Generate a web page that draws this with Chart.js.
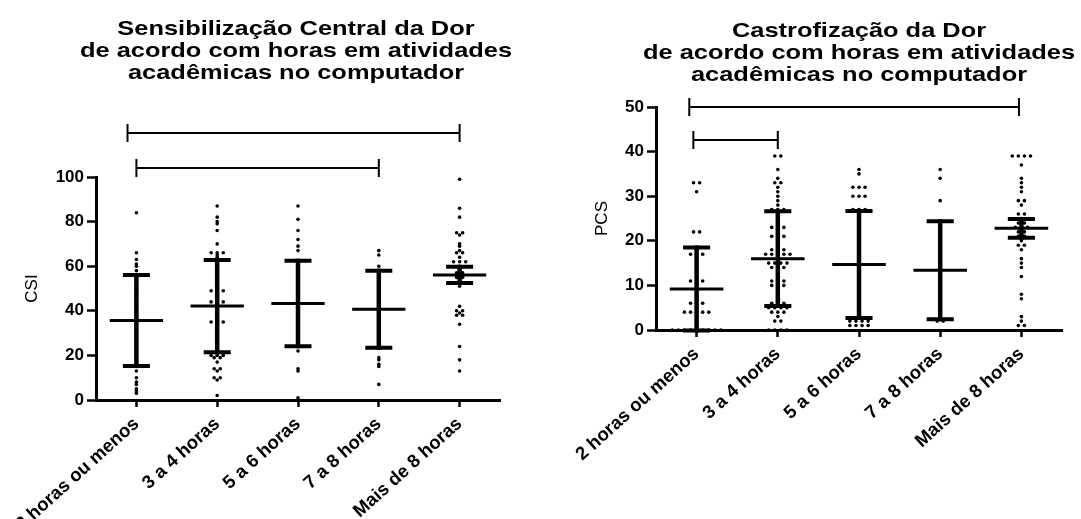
<!DOCTYPE html>
<html><head><meta charset="utf-8">
<script src="https://cdn.jsdelivr.net/npm/chart.js@4.4.0/dist/chart.umd.min.js"></script>
<style>
html,body{margin:0;padding:0;background:#fff;}
#wrap{position:relative;width:1081px;height:519px;overflow:hidden;background:#fff;}
.c{position:absolute;top:0;height:519px;}
</style></head><body>
<div id="wrap">
<div class="c" style="left:0;width:540px"><canvas id="csi"></canvas></div>
<div class="c" style="left:540px;width:541px"><canvas id="pcs"></canvas></div>
</div>
<script>
// ---------- data ----------
const categories = ['2 horas ou menos', '3 a 4 horas', '5 a 6 horas', '7 a 8 horas', 'Mais de 8 horas'];

const csiTitle = ['Sensibilização Central da Dor', 'de acordo com horas em atividades', 'acadêmicas no computador'];
const pcsTitle = ['Castrofização da Dor', 'de acordo com horas em atividades', 'acadêmicas no computador'];

const csi2h   = [84, 66, 63, 61, 60, 58, 55, 52, 50, 47, 45, 43, 42, 40, 39, 38, 37, 36, 34, 32, 30, 28, 26, 24, 22, 20, 18, 16, 13, 10, 8, 7, 5, 4, 3];
const csi3a4  = [87, 82, 80, 79, 76, 70, 66, 66, 66, 65, 64, 62, 61, 60, 58, 57, 56, 55, 54, 53, 52, 51, 50, 49, 49, 49, 48, 47, 46, 45, 44, 44, 44, 43, 42, 41, 40, 39, 38, 37, 36, 35, 35, 35, 34, 33, 32, 31, 30, 29, 28, 27, 26, 25, 24, 23, 22, 21, 20, 20, 20, 19, 19, 17, 14, 14, 13, 10, 10, 9, 2];
const csi5a6  = [87, 81, 76, 72, 69, 67, 62, 60, 58, 56, 55, 52, 50, 48, 45, 43, 40, 37, 35, 33, 30, 29, 27, 25, 22, 14, 13, 1];
const csi7a8  = [67, 65, 60, 55, 50, 45, 41, 35, 30, 26, 19, 18, 16, 15, 7];
const csiMais8 = [99, 86, 82, 75, 75, 74, 70, 69, 67, 66, 66, 64, 62, 62, 62, 60, 59, 58, 57, 57, 56, 56, 55, 55, 54, 53, 52, 51, 42, 40, 40, 39, 38, 38, 34, 24, 18, 13];
const csiMeans = [35.6, 42.1, 43.3, 40.7, 56.1];
const csiErr   = [20.4, 20.7, 19.2, 17.3, 3.6];
const csiTicks = [0, 20, 40, 60, 80, 100];
const csiCompare = [[0, 3], [0, 4]];

const pcs2h   = [33, 33, 31, 22, 22, 18, 17, 17, 17, 16, 14, 13, 12, 11, 11, 11, 10, 9, 8, 7, 6, 6, 6, 5, 4, 4, 4, 4, 4, 3, 2, 1, 0, 0, 0, 0, 0, 0, 0, 0, 0];
const pcs3a4  = [39, 39, 36, 34, 33, 33, 32, 31, 30, 29, 28, 27, 27, 27, 26, 25, 24, 23, 23, 23, 22, 21, 21, 21, 20, 19, 18, 18, 18, 17, 17, 17, 17, 17, 16, 15, 15, 15, 15, 14, 14, 14, 13, 12, 11, 11, 11, 10, 10, 10, 9, 8, 7, 6, 6, 6, 5, 5, 5, 5, 4, 4, 4, 3, 2, 2, 0, 0, 0, 0];
const pcs5a6  = [36, 35, 32, 32, 32, 30, 30, 30, 27, 27, 27, 26, 24, 22, 20, 18, 15, 13, 10, 8, 5, 3, 2, 2, 2, 2, 1, 1, 1, 1];
const pcs7a8  = [36, 34, 29, 24, 22, 20, 17, 15, 13, 10, 7, 5, 3, 2, 2];
const pcsMais8 = [39, 39, 39, 39, 37, 34, 33, 32, 31, 29, 29, 28, 26, 26, 25, 24, 24, 23, 23, 23, 22, 22, 21, 21, 20, 19, 19, 18, 16, 15, 14, 12, 8, 7, 3, 2, 1, 1];
const pcsMeans = [9.2, 16.0, 14.7, 13.4, 22.8];
const pcsErr   = [9.3, 10.6, 12.0, 11.0, 2.1];
const pcsTicks = [0, 10, 20, 30, 40, 50];
const pcsCompare = [[0, 4], [0, 1]];

// ---------- helpers ----------
const FF = "'Liberation Sans', Arial, Helvetica, sans-serif";

// spread identical values side by side (scatter dot plot)
function swarm(groups, step) {
  const pts = [];
  groups.forEach((vals, gi) => {
    const counts = {}, seen = {};
    vals.forEach(v => counts[v] = (counts[v] || 0) + 1);
    vals.forEach(v => {
      const n = counts[v], k = seen[v] || 0;
      seen[v] = k + 1;
      pts.push({x: gi + (k - (n - 1) / 2) * step, y: v});
    });
  });
  return pts;
}

// title drawn as real canvas text, slightly widened like the exported figure
const titlePlugin = {
  id: 'wideTitle',
  afterDraw(chart, args, o) {
    const {ctx, chartArea} = chart;
    const cx = (chartArea.left + chartArea.right) / 2 + o.dx;
    ctx.save();
    ctx.fillStyle = '#000';
    ctx.font = 'bold ' + o.size + 'px ' + FF;
    ctx.textAlign = 'center';
    ctx.textBaseline = 'middle';
    o.lines.forEach((line, i) => {
      ctx.save();
      ctx.translate(cx, o.top + i * o.lineHeight);
      ctx.scale(o.stretch, 1);
      ctx.fillText(line, 0, 0);
      ctx.restore();
    });
    ctx.restore();
  }
};

const statsPlugin = {
  id: 'stats',
  afterDatasetsDraw(chart, args, o) {
    const {ctx} = chart;
    const x = chart.scales.x, y = chart.scales.y;
    ctx.save();
    ctx.strokeStyle = '#000';
    ctx.lineCap = 'butt';
    o.means.forEach((m, i) => {
      const e = o.errs[i];
      const cx = x.getPixelForValue(i);
      const yt = y.getPixelForValue(m + e), yb = y.getPixelForValue(m - e), ym = y.getPixelForValue(m);
      ctx.lineWidth = 4.5;
      ctx.beginPath(); ctx.moveTo(cx, yt - 2); ctx.lineTo(cx, yb + 2); ctx.stroke();
      ctx.lineWidth = 4;
      const c0 = x.getPixelForValue(i - o.capHalf), c1 = x.getPixelForValue(i + o.capHalf);
      ctx.beginPath(); ctx.moveTo(c0, yt); ctx.lineTo(c1, yt); ctx.moveTo(c0, yb); ctx.lineTo(c1, yb); ctx.stroke();
      ctx.lineWidth = 3;
      ctx.beginPath(); ctx.moveTo(x.getPixelForValue(i - o.meanHalf), ym); ctx.lineTo(x.getPixelForValue(i + o.meanHalf), ym); ctx.stroke();
    });
    ctx.lineWidth = 2;
    o.compare.forEach((pair, k) => {
      const lv = y.getPixelForValue(o.levels[k]);
      const a = x.getPixelForValue(pair[0] + o.shift[k][0]), b = x.getPixelForValue(pair[1] + o.shift[k][1]);
      ctx.beginPath();
      ctx.moveTo(a, lv); ctx.lineTo(b, lv);
      ctx.moveTo(a, lv - 9); ctx.lineTo(a, lv + 9);
      ctx.moveTo(b, lv - 9); ctx.lineTo(b, lv + 9);
      ctx.stroke();
    });
    ctx.restore();
  }
};

function makeChart(id, c) {
  return new Chart(document.getElementById(id), {
    type: 'scatter',
    data: {datasets: [{
      data: swarm(c.groups, 0.075),
      pointRadius: 1.8, pointHoverRadius: 1.8, pointStyle: 'circle',
      backgroundColor: '#000', borderColor: '#000', borderWidth: 0
    }]},
    options: {
      responsive: true, maintainAspectRatio: false, animation: false, events: [],
      layout: {padding: {left: 0, right: c.padRight, top: c.padTop, bottom: 0}},
      plugins: {
        legend: {display: false}, tooltip: {enabled: false}, title: {display: false},
        wideTitle: {lines: c.title, size: 21, stretch: 1.21, top: c.titleTop, lineHeight: 22, dx: c.titleDx},
        stats: {means: c.means, errs: c.errs, capHalf: 0.167, meanHalf: 0.33,
          compare: c.compare, levels: c.levels, shift: c.shift}
      },
      scales: {
        x: {
          type: 'linear', min: -0.5, max: 4.5,
          afterBuildTicks: s => { s.ticks = categories.map((_, i) => ({value: i})); },
          afterFit: s => { s.height = c.xHeight; },
          ticks: {autoSkip: false, minRotation: 42, maxRotation: 42, padding: 6, color: '#000',
            font: {family: FF, size: 18.5, weight: 'bold'},
            callback: v => categories[v]},
          grid: {display: true, drawOnChartArea: false, drawTicks: true, tickLength: 7, tickWidth: 2.5, tickColor: '#000'},
          border: {display: true, color: '#000', width: 3}
        },
        y: {
          min: 0, max: c.ticks[c.ticks.length - 1],
          afterBuildTicks: s => { s.ticks = c.ticks.map(v => ({value: v})); },
          afterFit: s => { s.width = c.yWidth; },
          title: {display: true, text: c.yLabel, color: '#000', font: {family: FF, size: 17, lineHeight: 1.2},
            padding: {top: c.yTitlePad, bottom: 0}},
          ticks: {color: '#000', padding: 3, font: {family: FF, size: 17, weight: 'bold'}},
          grid: {display: true, drawOnChartArea: false, drawTicks: true, tickLength: 9, tickWidth: 2.5, tickColor: '#000'},
          border: {display: true, color: '#000', width: 3}
        }
      }
    },
    plugins: [statsPlugin, titlePlugin]
  });
}

makeChart('csi', {
  groups: [csi2h, csi3a4, csi5a6, csi7a8, csiMais8],
  means: csiMeans, errs: csiErr, ticks: csiTicks, yLabel: 'CSI', title: csiTitle,
  compare: csiCompare, levels: [104, 119.7], shift: [[0, 0], [-0.11, 0]],
  padRight: 40, padTop: 177, yWidth: 96, xHeight: 119, titleTop: 29, titleDx: -2, yTitlePad: 21.8
});
makeChart('pcs', {
  groups: [pcs2h, pcs3a4, pcs5a6, pcs7a8, pcsMais8],
  means: pcsMeans, errs: pcsErr, ticks: pcsTicks, yLabel: 'PCS', title: pcsTitle,
  compare: pcsCompare, levels: [50, 42.6], shift: [[-0.09, -0.03], [-0.04, 0]],
  padRight: 19, padTop: 107, yWidth: 116, xHeight: 189, titleTop: 31, titleDx: 0, yTitlePad: 51.8
});
</script>
</body></html>
